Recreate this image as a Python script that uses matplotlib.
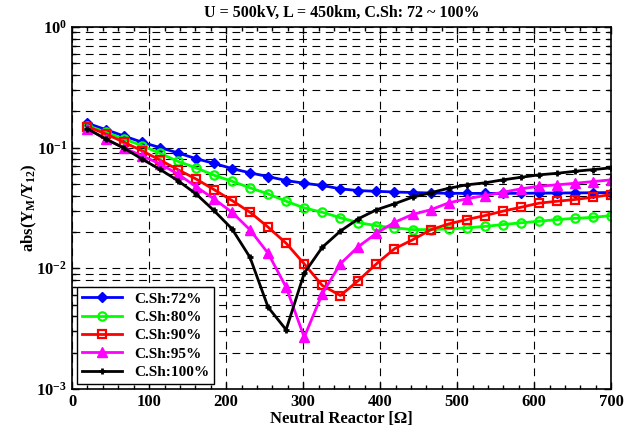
import matplotlib
matplotlib.use('Agg')
import matplotlib.pyplot as plt
import numpy as np
from matplotlib.ticker import LogLocator, MultipleLocator, NullFormatter

plt.rcParams['font.family'] = 'Liberation Serif'
plt.rcParams['font.weight'] = 'bold'
plt.rcParams['mathtext.fontset'] = 'custom'
plt.rcParams['mathtext.rm'] = 'Liberation Serif:bold'
plt.rcParams['mathtext.it'] = 'Liberation Serif:bold'
plt.rcParams['mathtext.bf'] = 'Liberation Serif:bold'

# neutral reactor values (ohm), 30 points from 20 to 700
reactor = [20.0, 43.4, 66.9, 90.3, 113.8, 137.2, 160.7, 184.1, 207.6, 231.0,
           254.5, 277.9, 301.4, 324.8, 348.3, 371.7, 395.2, 418.6, 442.1, 465.5,
           489.0, 512.4, 535.9, 559.3, 582.8, 606.2, 629.7, 653.1, 676.6, 700.0]

sh72 = [0.159, 0.141, 0.125, 0.111, 0.100, 0.0904, 0.081, 0.074, 0.067,
        0.0617, 0.0575, 0.0533, 0.0506, 0.0485, 0.0455, 0.0440, 0.0434,
        0.0428, 0.0424, 0.0420, 0.0418, 0.0417, 0.0417, 0.0417, 0.0418,
        0.0419, 0.0420, 0.0421, 0.0422, 0.0424]
sh80 = [0.152, 0.134, 0.118, 0.104, 0.0897, 0.077, 0.068, 0.059, 0.0526,
        0.0464, 0.0413, 0.0359, 0.0316, 0.0291, 0.0262, 0.0239, 0.0225,
        0.0216, 0.0209, 0.0209, 0.0212, 0.0216, 0.0222, 0.0230, 0.0238,
        0.0245, 0.0253, 0.0259, 0.0264, 0.0273]
sh90 = [0.149, 0.130, 0.111, 0.0944, 0.079, 0.0657, 0.0550, 0.0449, 0.0364,
        0.0291, 0.0219, 0.0161, 0.01087, 0.0072, 0.00594, 0.0079, 0.01087,
        0.0145, 0.0172, 0.0208, 0.0233, 0.0253, 0.0273, 0.0297, 0.0320,
        0.0346, 0.0359, 0.0371, 0.0388, 0.0408]
sh95 = [0.143, 0.118, 0.0994, 0.0859, 0.0733, 0.0605, 0.0475, 0.0376, 0.0291,
        0.0208, 0.0133, 0.00696, 0.00268, 0.00614, 0.01087, 0.0151, 0.0195,
        0.0240, 0.0279, 0.0305, 0.0348, 0.0376, 0.0400, 0.0426, 0.0455,
        0.0478, 0.0491, 0.0506, 0.0523, 0.0540]
sh100 = [0.143, 0.118, 0.0994, 0.0806, 0.0661, 0.0533, 0.0414, 0.0301, 0.0212,
         0.0123, 0.00475, 0.00309, 0.0091, 0.0149, 0.0203, 0.0257, 0.0305,
         0.0342, 0.0388, 0.0422, 0.0460, 0.0491, 0.0510, 0.0540, 0.0567,
         0.0594, 0.0612, 0.0636, 0.0657, 0.0679]

fig = plt.figure(figsize=(6.38, 4.34), dpi=100)
ax = fig.add_axes([0.113, 0.104, 0.845, 0.834])

ax.plot(reactor, sh72, color='#0000ff', lw=2, marker='D', ms=5, mfc='#0000ff', mec='#0000ff', label='C.Sh:72%')
ax.plot(reactor, sh80, color='#00ff00', lw=2, marker='o', ms=6, mfc='none', mec='#00ff00', mew=1.6, label='C.Sh:80%')
ax.plot(reactor, sh90, color='#ff0000', lw=2, marker='s', ms=6, mfc='none', mec='#ff0000', mew=1.6, label='C.Sh:90%')
ax.plot(reactor, sh95, color='#ff00ff', lw=2, marker='^', ms=7, mfc='#ff00ff', mec='#ff00ff', label='C.Sh:95%')
ax.plot(reactor, sh100, color='black', lw=2, marker='+', ms=5, mew=2, label='C.Sh:100%')

ax.set_yscale('log')
ax.set_xlim(0, 700)
ax.set_ylim(1e-3, 1)
ax.xaxis.set_major_locator(MultipleLocator(100))
ax.xaxis.set_minor_locator(MultipleLocator(20))
ax.yaxis.set_major_locator(LogLocator(base=10, numticks=10))
ax.yaxis.set_minor_locator(LogLocator(base=10, subs=np.arange(2, 10), numticks=10))
ax.yaxis.set_minor_formatter(NullFormatter())

ax.grid(True, which='major', axis='x', color='black', linestyle=(0, (7, 5)), lw=0.8)
ax.grid(True, which='both', axis='y', color='black', linestyle=(0, (7, 5)), lw=0.8)
ax.set_axisbelow(True)

ax.tick_params(which='both', direction='in', top=True, right=True, labelsize=12, width=1)
ax.tick_params(which='major', length=5)
ax.tick_params(which='minor', length=3)
for lbl in ax.get_xticklabels():
    lbl.set_fontweight('bold')
for sp in ax.spines.values():
    sp.set_linewidth(1.2)

ax.set_title('U = 500kV, L = 450km, C.Sh: 72 ~ 100%', fontsize=11.5, fontweight='bold', pad=7)
ax.set_xlabel('Neutral Reactor [\u03a9]', fontsize=12, fontweight='bold', labelpad=1)
ax.set_ylabel(r'abs(Y$_\mathrm{M}$/Y$_\mathrm{12}$)', fontsize=12, fontweight='bold', labelpad=-2)

leg = ax.legend(loc='lower left', fontsize=11, frameon=True, fancybox=False,
                edgecolor='black', framealpha=1, borderaxespad=0.3,
                handlelength=2.6, labelspacing=0.3, borderpad=0.35)
leg.get_frame().set_linewidth(1.0)

fig.savefig('out.png', dpi=100)
